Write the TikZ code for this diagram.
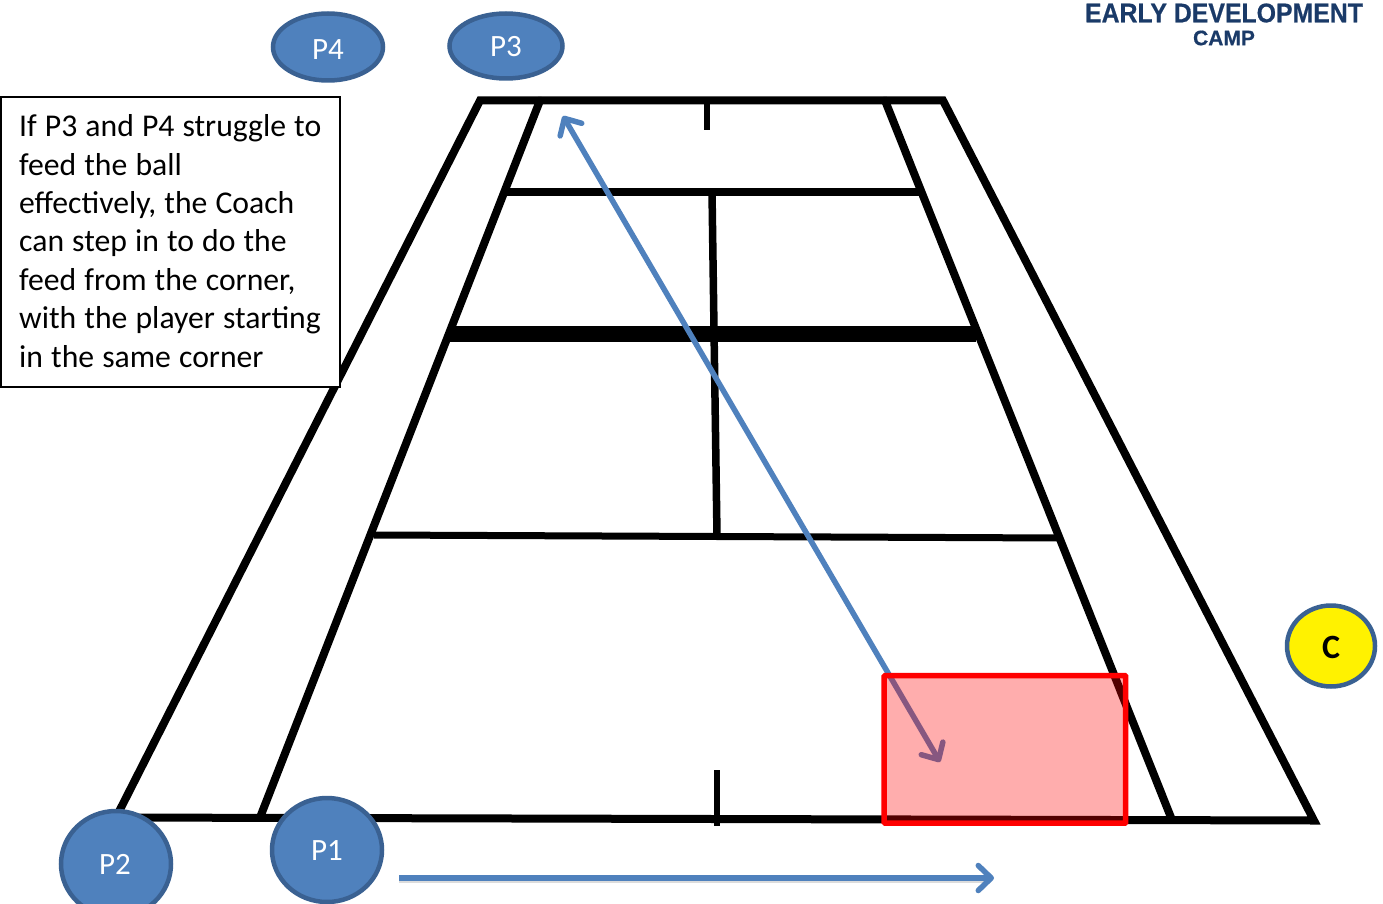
\documentclass[tikz,border=0pt]{standalone}
\usepackage{graphicx}
\usepackage{fontspec}
\setmainfont{Carlito}
\newfontfamily\logofont[BoldFeatures={FakeBold=0.6}]{Liberation Sans}
\usetikzlibrary{arrows.meta,shapes.geometric}
\definecolor{pblue}{HTML}{4F81BD}
\definecolor{pedge}{HTML}{3A6192}
\definecolor{navy}{HTML}{1A3A68}
\tikzset{
  x=1pt,y=-1pt,
  courtline/.style={draw=black,line width=8pt,line cap=round},
  playerdisc/.style={ellipse,draw=pedge,line width=4.5pt,fill=pblue,text=white,font=\fontsize{31}{32}\selectfont,inner sep=0pt,outer sep=0pt},
  coachdisc/.style={ellipse,draw=pedge,line width=4.5pt,fill=yellow,text=black,font=\fontsize{34}{34}\selectfont\bfseries,inner sep=0pt,outer sep=0pt},
  runtip/.tip={Straight Barb[length=13pt,width=25pt,round,line width=5.5pt]},
  runarrow/.style={draw=pblue,line width=5.5pt,-runtip},
  runshadow/.style={draw=black!30,opacity=.45,line width=4pt},
}
\begin{document}
\begin{tikzpicture}
\clip (0,0) rectangle (1383,904);
\fill[white] (0,0) rectangle (1383,904);
% court corners
\coordinate (ol) at (116,817.5);
\coordinate (otl) at (480,100.5);
\coordinate (otr) at (943,100.5);
\coordinate (or) at (1314,820.5);
\coordinate (il) at (260,817.5);
\coordinate (itl) at (540,100.5);
\coordinate (itr) at (885,100.5);
\coordinate (ir) at (1172,820);
\coordinate (sfl) at (505,192);
\coordinate (sfr) at (920,192);
\coordinate (netl) at (448,333.5);
\coordinate (netr) at (976,333.5);
\coordinate (snl) at (374,535);
\coordinate (snr) at (1061,538);
\coordinate (ct) at (712,192);
\coordinate (cb) at (717,536);
\coordinate (tt1) at (707,100);
\coordinate (tt2) at (707,130);
\coordinate (tb1) at (717,770);
\coordinate (tb2) at (717,826);
\coordinate (a1) at (940,762);
\coordinate (a2) at (563,116);
\coordinate (b1) at (399,878);
\coordinate (b2) at (994,878);
% court
\draw[courtline,line cap=butt] (ol) -- (otl) -- (otr) -- (or) -- cycle;
\draw[courtline] (il) -- (itl);
\draw[courtline] (itr) -- (ir);
\draw[courtline,line width=7.5pt,line cap=butt] (sfl) -- (sfr);
\draw[courtline,line width=16pt,line cap=butt] (netl) -- (netr);
\draw[courtline,line width=7pt,line cap=butt] (snl) -- (snr);
\draw[courtline,line width=7.5pt,line cap=butt] (ct) -- (cb);
\draw[courtline,line width=6pt,line cap=butt] (tt1) -- (tt2);
\draw[courtline,line width=6pt,line cap=butt] (tb1) -- (tb2);
% arrows
\draw[runshadow] ([yshift=-3pt]b1) -- ([yshift=-3pt,xshift=-6pt]b2);
\draw[runarrow,runtip-runtip] (a1) -- (a2);
\draw[runarrow] (b1) -- (b2);
% zone
\node[draw=red,line width=5.5pt,fill=red,fill opacity=.32,draw opacity=1,rounded corners=1pt,minimum width=241.5pt,minimum height=147.7pt,inner sep=0pt,outer sep=0pt,anchor=north west] (zone) at (884.2,675.5) {};
% players
\node[playerdisc,minimum width=110pt,minimum height=67pt] (P4) at (328,47) {\raisebox{-2.5pt}[\height][\depth]{P4}};
\node[playerdisc,minimum width=113pt,minimum height=65pt] (P3) at (506,46) {\raisebox{-1pt}[\height][\depth]{P3}};
\node[playerdisc,minimum width=110pt,minimum height=106pt] (P2) at (116,864) {\hspace*{-2pt}P2};
\node[playerdisc,minimum width=110pt,minimum height=104pt] (P1) at (327,850) {\raisebox{-1pt}[\height][\depth]{P1}};
\node[coachdisc,minimum width=88pt,minimum height=81pt] (C) at (1331,646) {\raisebox{-1pt}[\height][\depth]{C}};
% note
\node[draw=black,line width=1.5pt,fill=white,anchor=north west,inner sep=0pt,outer sep=0pt,text width=339pt,minimum height=290pt,align=left] (note) at (1,97) {};
\node[anchor=north west,inner sep=0pt,text width=322pt,align=left,font=\fontsize{31.7}{38.4}\selectfont] (notetext) at (19,114.5) {\spaceskip=.255em\relax If P3 and P4 struggle to\\feed the ball\\effectively, the Coach\\can step in to do the\\feed from the corner,\\with the player starting\\in the same corner};
% logo
\node[text=navy,inner sep=0pt,font=\logofont\bfseries\fontsize{27}{28}\selectfont] (logo1) at (1224,13) {\scalebox{.92}[1]{EARLY DEVELOPMENT}};
\node[text=navy,inner sep=0pt,font=\logofont\bfseries\fontsize{21}{22}\selectfont] (logo2) at (1224,38) {CAMP};
\end{tikzpicture}
\end{document}
